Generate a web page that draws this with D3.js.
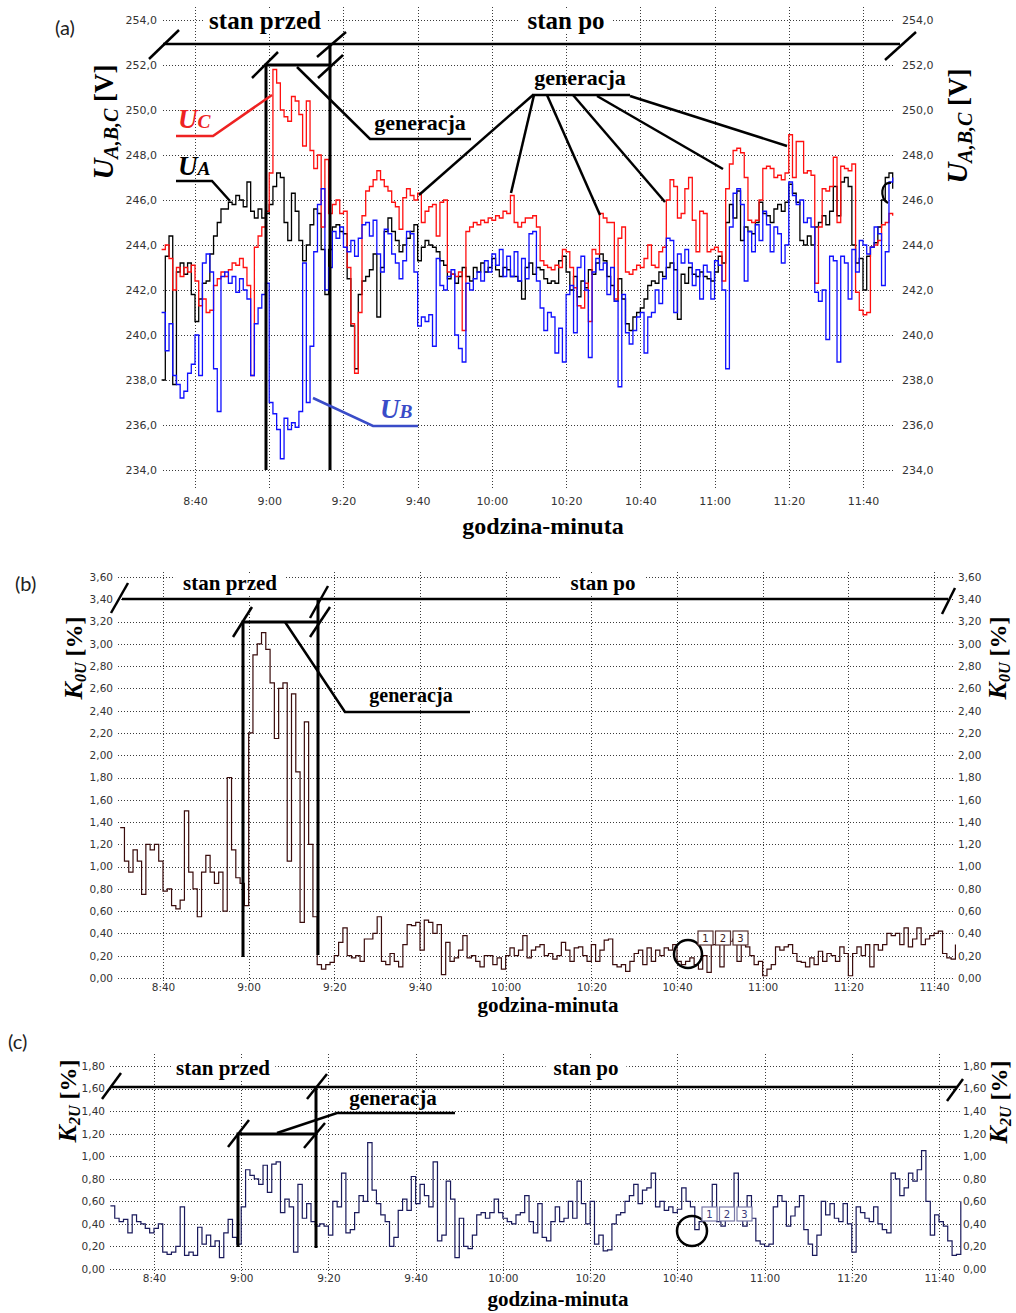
<!DOCTYPE html>
<html>
<head>
<meta charset="utf-8">
<script src="https://cdn.jsdelivr.net/npm/d3@7"></script>
<style>
  body { margin: 0; background: #fff; }
  svg { display: block; }
  .tick text { font-family: "DejaVu Sans", Verdana, sans-serif; fill: #333; }
  .serif { font-family: "Liberation Serif", "Times New Roman", serif; font-weight: bold; }
</style>
</head>
<body>
<svg id="chart" width="1016" height="1313"></svg>
<script>
// ---- time axis (hour:minute) ----
const tickTimes = ["8:40", "9:00", "9:20", "9:40", "10:00", "10:20", "10:40", "11:00", "11:20", "11:40"];

// ---- (a) phase voltages U_A, U_B, U_C [V], one reading per minute ----
const startA = "8:31";
const uA = [
  238.0, 243.5, 244.4, 237.8, 242.8, 243.2, 242.7, 243.2, 241.8,
  240.6, 241.6, 242.3, 242.4, 243.6, 244.4, 245.0, 245.6, 245.6, 245.9,
  245.8, 246.2, 246.0, 245.7, 246.8, 245.5, 245.2, 245.6, 245.2, 245.4,
  245.8, 246.6, 247.2, 247.0, 245.0, 244.2, 246.3, 245.5, 244.2, 243.3,
  244.0, 244.9, 245.6, 245.4, 243.8, 241.8, 243.8, 244.8, 244.9, 244.6,
  244.5, 242.5, 240.4, 238.5, 241.8, 242.4, 242.6, 242.9, 243.6, 240.8,
  243.0, 244.6, 245.2, 244.6, 244.2, 243.7, 244.0, 244.3, 244.6, 244.9,
  243.3, 243.9, 244.2, 244.0, 243.9, 243.7, 243.3, 243.1, 242.5, 242.7,
  242.3, 242.6, 243.0, 242.6, 242.4, 243.0, 242.8, 243.2, 242.8, 243.0,
  243.4, 242.9, 242.6, 243.0, 242.9, 242.6, 242.6, 242.4, 241.6, 243.0,
  243.2, 242.7, 243.0, 242.9, 242.5, 242.3, 242.4, 242.3, 243.3, 243.5,
  242.8, 242.0, 242.6, 241.7, 242.4, 242.1, 242.9, 242.7, 243.2, 243.6,
  243.3, 242.6, 242.2, 241.5, 242.5, 241.6, 240.5, 240.2, 240.8, 241.0,
  241.2, 241.6, 242.2, 242.4, 242.3, 242.8, 242.6, 243.0, 243.2, 242.9,
  240.7, 242.7, 242.3, 243.0, 242.7, 242.6, 242.8, 242.6, 242.5, 242.4,
  242.8, 243.5, 243.2, 245.0, 245.8, 245.2, 246.4, 244.2, 244.8, 244.6,
  244.5, 245.0, 245.9, 245.4, 245.3, 245.0, 245.6, 245.8, 245.5, 245.9,
  246.7, 246.3, 245.9, 244.2, 244.0, 244.4, 244.0, 244.8, 245.0, 245.3,
  244.9, 245.5, 246.6, 245.3, 246.8, 247.0, 246.6, 244.0, 243.2, 243.4,
  242.0, 243.5, 243.9, 244.1, 244.8, 246.0, 247.0, 247.2, 246.5
];
const uB = [
  241.0, 239.3, 240.5, 238.2, 237.8, 237.2, 237.5, 238.3, 238.7,
  240.0, 238.2, 243.2, 243.6, 242.8, 238.5, 236.6, 242.6, 242.8, 242.3,
  242.6, 241.9, 242.5, 242.0, 241.6, 238.2, 240.5, 241.2, 241.8, 242.3,
  237.0, 236.5, 235.8, 234.5, 236.3, 235.8, 236.1, 235.9, 236.6, 243.2,
  237.0, 239.5, 243.7, 245.8, 246.5, 242.0, 243.0, 244.6, 244.3, 244.8,
  243.9, 243.7, 244.2, 243.5, 244.3, 244.9, 245.0, 244.4, 245.1, 243.6,
  242.8, 244.7, 244.5, 243.6, 243.2, 242.5, 243.3, 244.6, 244.5, 242.8,
  240.4, 240.8, 240.6, 240.9, 239.5, 243.4, 242.2, 242.0, 242.6, 242.9,
  240.0, 239.4, 238.8, 242.3, 242.0, 242.5, 242.8, 242.4, 243.3, 242.8,
  243.6, 243.1, 243.8, 242.6, 243.5, 242.6, 243.7, 242.4, 243.4, 242.5,
  244.5, 244.6, 242.4, 241.2, 240.2, 241.0, 240.8, 239.2, 240.3, 238.8,
  241.8, 242.2, 240.1, 243.0, 243.5, 242.0, 239.0, 242.8, 243.4, 242.9,
  243.2, 241.8, 243.0, 241.5, 237.7, 241.8, 240.1, 239.6, 240.2, 240.8,
  241.0, 239.2, 240.8, 241.0, 242.0, 241.4, 242.5, 244.3, 244.2, 241.0,
  243.6, 243.2, 243.8, 243.2, 242.2, 242.9, 241.6, 243.1, 242.8, 241.6,
  243.3, 243.1, 242.0, 238.5, 244.8, 246.3, 246.5, 245.8, 242.4, 244.6,
  243.7, 244.9, 244.2, 245.5, 244.9, 243.7, 244.8, 244.5, 243.2, 244.0,
  246.8, 246.2, 245.8, 246.0, 245.0, 245.2, 244.8, 241.9, 241.5, 242.0,
  239.8, 243.5, 243.3, 238.8, 243.5, 243.2, 241.6, 243.8, 242.8, 244.2,
  244.0, 243.6, 243.9, 244.8, 244.5, 242.2, 243.7, 246.8, 247.0
];
const uC = [
  243.8, 244.0, 243.4, 242.0, 243.0, 242.6, 243.0, 242.8, 243.1,
  242.4, 241.3, 241.6, 241.0, 241.1, 242.2, 242.5, 242.8, 242.6, 242.9,
  243.2, 243.1, 243.4, 243.0, 242.2, 238.2, 243.9, 244.4, 244.8, 245.5,
  247.2, 251.8, 251.2, 250.0, 249.7, 249.5, 250.6, 250.4, 249.8, 248.4,
  250.4, 248.2, 247.4, 248.0, 244.8, 247.8, 245.4, 245.8, 246.0, 245.4,
  245.5, 243.0, 240.5, 238.3, 241.0, 245.3, 246.4, 246.6, 246.9, 247.3,
  246.9, 246.6, 246.4, 245.9, 245.7, 244.7, 246.1, 246.5, 246.2, 246.0,
  246.3, 245.0, 245.5, 245.7, 245.8, 244.4, 245.9, 246.0, 242.8, 242.7,
  242.6, 242.8, 240.2, 244.6, 244.8, 245.0, 244.9, 245.1, 245.0, 245.2,
  245.1, 245.3, 245.2, 245.5, 245.4, 246.2, 245.0, 244.8, 245.0, 245.2,
  245.2, 245.3, 244.8, 243.3, 243.1, 243.0, 242.9, 243.1, 243.0, 243.8,
  243.7, 243.0, 242.1, 241.3, 241.2, 242.3, 240.6, 243.8, 243.6, 245.4,
  245.2, 245.0, 245.0, 241.6, 244.3, 244.8, 242.8, 242.7, 242.9, 243.1,
  243.0, 243.4, 244.0, 243.1, 243.0, 243.7, 243.9, 246.0, 246.9, 246.6,
  245.2, 245.4, 246.5, 247.0, 245.1, 243.7, 245.5, 245.4, 243.7, 243.8,
  243.9, 243.7, 242.4, 246.5, 247.6, 248.2, 248.3, 248.1, 247.0, 245.1,
  245.0, 245.1, 246.0, 247.4, 247.5, 247.4, 247.0, 247.1, 246.9, 247.2,
  248.9, 247.0, 248.6, 248.6, 247.2, 247.3, 247.1, 242.3, 244.8, 246.5,
  246.4, 246.6, 247.9, 245.0, 247.5, 247.4, 247.3, 247.6, 241.9, 241.1,
  240.9, 241.0, 243.9, 244.0, 244.2, 244.9, 245.0, 245.4, 245.3
];
const ticksA = [234, 236, 238, 240, 242, 244, 246, 248, 250, 252, 254];

// ---- (b) zero-sequence unbalance K0U [%] ----
const startB = "8:30";
const k0u = [
  1.35, 1.05, 0.95, 1.15, 1.05, 0.75, 1.2, 1.15, 1.2, 1.05,
  0.78, 0.8, 0.65, 0.62, 0.7, 1.5, 0.95, 0.8, 0.55, 0.95,
  1.1, 0.95, 0.85, 0.95, 0.6, 1.8, 1.15, 0.9, 0.85, 0.65,
  2.2, 2.9, 3.0, 3.1, 2.95, 2.65, 2.15, 2.6, 2.65, 1.05,
  2.55, 1.85, 0.5, 2.3, 1.2, 0.55, 0.12, 0.08, 0.12, 0.14,
  0.2, 0.32, 0.45, 0.2, 0.18, 0.2, 0.15, 0.35, 0.35, 0.4,
  0.55, 0.15, 0.12, 0.22, 0.15, 0.1, 0.3, 0.48, 0.47, 0.5,
  0.25, 0.52, 0.5, 0.4, 0.48, 0.03, 0.32, 0.15, 0.18, 0.25,
  0.38, 0.18, 0.2, 0.15, 0.1, 0.2, 0.2, 0.12, 0.18, 0.08,
  0.2, 0.27, 0.2, 0.25, 0.38, 0.18, 0.25, 0.28, 0.3, 0.2,
  0.22, 0.17, 0.2, 0.32, 0.25, 0.15, 0.27, 0.28, 0.2, 0.15,
  0.3, 0.15, 0.25, 0.34, 0.35, 0.12, 0.1, 0.12, 0.06, 0.15,
  0.22, 0.25, 0.12, 0.27, 0.15, 0.25, 0.2, 0.27, 0.25, 0.3,
  0.15, 0.12, 0.15, 0.18, 0.12, 0.08, 0.2, 0.05, 0.3, 0.32,
  0.1, 0.3, 0.33, 0.35, 0.15, 0.3, 0.28, 0.2, 0.12, 0.15,
  0.02, 0.08, 0.12, 0.28, 0.25, 0.28, 0.3, 0.22, 0.15, 0.14,
  0.1, 0.18, 0.12, 0.24, 0.15, 0.22, 0.2, 0.15, 0.28, 0.22,
  0.02, 0.22, 0.28, 0.2, 0.3, 0.1, 0.3, 0.25, 0.3, 0.4,
  0.38, 0.4, 0.3, 0.45, 0.28, 0.35, 0.45, 0.3, 0.35, 0.38,
  0.4, 0.42, 0.22, 0.18, 0.17, 0.3
];
const ticksB = [0, 0.2, 0.4, 0.6, 0.8, 1.0, 1.2, 1.4, 1.6, 1.8, 2.0, 2.2, 2.4, 2.6, 2.8, 3.0, 3.2, 3.4, 3.6];

// ---- (c) negative-sequence unbalance K2U [%] ----
const startC = "8:30";
const k2u = [
  0.56, 0.45, 0.42, 0.44, 0.32, 0.48, 0.42, 0.4, 0.36, 0.32,
  0.36, 0.4, 0.15, 0.13, 0.15, 0.2, 0.55, 0.12, 0.15, 0.12,
  0.37, 0.22, 0.3, 0.2, 0.25, 0.1, 0.32, 0.44, 0.28, 0.22,
  0.55, 0.88, 0.83, 0.8, 0.75, 0.92, 0.68, 0.93, 0.95, 0.5,
  0.62, 0.55, 0.15, 0.75, 0.45, 0.58, 0.42, 0.38, 0.4, 0.38,
  0.3, 0.6, 0.55, 0.85, 0.32, 0.35, 0.5, 0.65, 0.6, 1.12,
  0.7, 0.58, 0.48, 0.42, 0.2, 0.28, 0.52, 0.62, 0.52, 0.82,
  0.58, 0.75, 0.65, 0.55, 0.95, 0.25, 0.3, 0.78, 0.62, 0.1,
  0.45, 0.2, 0.18, 0.3, 0.48, 0.5, 0.45, 0.5, 0.62, 0.5,
  0.45, 0.42, 0.4, 0.48, 0.5, 0.65, 0.42, 0.32, 0.58, 0.28,
  0.25, 0.42, 0.55, 0.42, 0.45, 0.6, 0.45, 0.78, 0.58, 0.4,
  0.6, 0.22, 0.3, 0.16, 0.17, 0.4, 0.48, 0.5, 0.6, 0.65,
  0.75, 0.58, 0.7, 0.72, 0.85, 0.55, 0.6, 0.52, 0.55, 0.5,
  0.53, 0.72, 0.6, 0.55, 0.35, 0.42, 0.45, 0.5, 0.75, 0.42,
  0.38, 0.45, 0.5, 0.85, 0.45, 0.38, 0.65, 0.45, 0.25, 0.22,
  0.2, 0.22, 0.55, 0.65, 0.6, 0.38, 0.47, 0.55, 0.65, 0.35,
  0.22, 0.12, 0.3, 0.6, 0.48, 0.58, 0.45, 0.42, 0.58, 0.4,
  0.15, 0.55, 0.5, 0.45, 0.42, 0.55, 0.4, 0.35, 0.32, 0.85,
  0.8, 0.65, 0.72, 0.85, 0.78, 0.88, 1.05, 0.6, 0.3, 0.48,
  0.42, 0.38, 0.25, 0.12, 0.13, 0.6
];
const ticksC = [0, 0.2, 0.4, 0.6, 0.8, 1.0, 1.2, 1.4, 1.6, 1.8];

// ---- helpers ----
const toMin = s => { const [h, m] = s.split(":").map(Number); return h * 60 + m; };
const fmtTime = m => `${Math.floor(m / 60)}:${String(m % 60).padStart(2, "0")}`;
const svg = d3.select("#chart");
const tickMinutes = tickTimes.map(toMin);

function panel(cfg) {
  const g = svg.append("g");
  const x = d3.scaleLinear().domain([toMin("8:40"), toMin("11:40")]).range(cfg.xr);
  const y = d3.scaleLinear().domain(cfg.yd).range(cfg.yr);
  const grid = g.append("g").attr("stroke", "#3a3a3a").attr("stroke-width", 1)
    .attr("stroke-dasharray", "1,2").attr("shape-rendering", "crispEdges");
  grid.selectAll("line.h").data(cfg.yTicks).join("line").attr("class", "h")
    .attr("x1", cfg.left).attr("x2", cfg.right)
    .attr("y1", d => Math.round(y(d)) + 0.5).attr("y2", d => Math.round(y(d)) + 0.5);
  grid.selectAll("line.v").data(tickMinutes).join("line").attr("class", "v")
    .attr("y1", cfg.vTop).attr("y2", cfg.vBottom)
    .attr("x1", d => Math.round(x(d)) + 0.5).attr("x2", d => Math.round(x(d)) + 0.5);

  const fmtY = d => d.toFixed(cfg.dec).replace(".", ",");
  const ax = g.append("g").attr("transform", `translate(0,${cfg.xLabelY})`)
    .call(d3.axisBottom(x).tickValues(tickMinutes).tickFormat(fmtTime).tickSize(0).tickPadding(0));
  const axl = g.append("g").attr("transform", `translate(${cfg.left},0)`)
    .call(d3.axisLeft(y).tickValues(cfg.yTicks).tickFormat(fmtY).tickSize(0).tickPadding(cfg.left - cfg.yLabL));
  const axr = g.append("g").attr("transform", `translate(${cfg.right},0)`)
    .call(d3.axisRight(y).tickValues(cfg.yTicks).tickFormat(fmtY).tickSize(0).tickPadding(cfg.yLabR - cfg.right));
  [ax, axl, axr].forEach(a => {
    a.select(".domain").remove();
    a.selectAll("text").style("font-size", cfg.fs + "px").attr("fill", "#333");
  });
  ax.selectAll("text").attr("dy", "0.71em");
  return { g, x, y };
}

function drawSeries(p, start, values, color, width) {
  const t0 = toMin(start);
  const line = d3.line().x((d, i) => p.x(t0 + i)).y(d => p.y(d)).curve(d3.curveStepAfter);
  p.g.append("path").datum(values).attr("d", line)
    .attr("fill", "none").attr("stroke", color).attr("stroke-width", width)
    .attr("stroke-linejoin", "miter");
}

function serifText(x, y, txt, size, anchor = "middle", bg = false, pad = 6) {
  const t = svg.append("text").attr("class", "serif").attr("x", x).attr("y", y)
    .attr("text-anchor", anchor).style("font-size", size + "px").attr("fill", "#000").text(txt);
  if (bg) {
    const b = t.node().getBBox();
    svg.insert("rect", () => t.node()).attr("x", b.x - pad).attr("y", b.y + 2)
      .attr("width", b.width + 2 * pad).attr("height", b.height - 2).attr("fill", "#fff");
  }
  return t;
}

function yTitle(x, y, main, sub, unit, size, subSize, subDy) {
  const t = svg.append("text").attr("class", "serif")
    .attr("transform", `translate(${x},${y}) rotate(-90)`)
    .attr("text-anchor", "middle").attr("fill", "#000");
  t.append("tspan").style("font-style", "italic").style("font-size", size + "px").text(main);
  t.append("tspan").style("font-style", "italic").style("font-size", subSize + "px").attr("dy", subDy).text(sub);
  t.append("tspan").style("font-size", (size - 2) + "px").attr("dy", -subDy).text("\u00a0[" + unit + "]");
}

function poly(pts, w = 2.5, color = "#000") {
  svg.append("path").attr("d", d3.line()(pts)).attr("fill", "none")
    .attr("stroke", color).attr("stroke-width", w).attr("stroke-linecap", "butt");
}

function panelLabel(x, y, s) {
  svg.append("text").attr("x", x).attr("y", y).text(s)
    .style("font-family", "Lato, 'Open Sans', sans-serif").style("font-size", "20px").attr("fill", "#222");
}

function phaseLabel(x, y, main, sub, color, size) {
  const t = svg.append("text").attr("class", "serif").attr("x", x).attr("y", y).attr("fill", color)
    .style("font-style", "italic");
  t.append("tspan").style("font-size", size + "px").text(main);
  t.append("tspan").style("font-size", (size * 0.72) + "px").text(sub);
}

function numberBoxes(x0, y0, stroke, textColor) {
  ["1", "2", "3"].forEach((s, i) => {
    const bx = x0 + i * 17.5;
    svg.append("rect").attr("x", bx).attr("y", y0).attr("width", 15).attr("height", 14)
      .attr("fill", "#fff").attr("stroke", stroke).attr("stroke-width", 1.2);
    svg.append("text").attr("x", bx + 7.5).attr("y", y0 + 11).attr("text-anchor", "middle")
      .style("font-family", "'DejaVu Sans', sans-serif").style("font-size", "10px")
      .attr("fill", textColor).text(s);
  });
}

// ================= (a) =================
const pA = panel({
  xr: [195, 863], yd: [234, 254], yr: [470, 20], yTicks: ticksA, dec: 1,
  left: 163, right: 893, vTop: 7, vBottom: 490, xLabelY: 497,
  yLabL: 157, yLabR: 902, fs: 11
});
drawSeries(pA, startA, uA, "#000", 1.3);
drawSeries(pA, startA, uC, "#ff1010", 1.3);
drawSeries(pA, startA, uB, "#1010ff", 1.3);

panelLabel(55, 35, "(a)");
serifText(265, 29, "stan przed", 25, "middle", true, 6);
serifText(566, 29, "stan po", 25, "middle", true, 8);
// time-interval brackets
poly([[163, 44], [900, 44]]);
poly([[149, 59], [179, 30]]);
poly([[317, 57], [346, 32]]);
poly([[885, 60], [916, 32]]);
poly([[266, 470], [266, 65], [330, 65]], 3);
poly([[330, 44], [330, 470]], 3);
poly([[252, 78], [278, 52]]);
poly([[318, 78], [343, 55]]);
// generation markers
poly([[297, 67], [370, 139], [471, 139]]);
serifText(420, 130, "generacja", 22);
serifText(580, 85, "generacja", 22);
poly([[532, 95], [630, 95]]);
poly([[533, 95], [419, 195]]);
poly([[534, 95], [511, 193]]);
poly([[547, 95], [600, 215]]);
poly([[573, 95], [665, 202]]);
poly([[597, 96], [723, 169]]);
poly([[630, 96], [787, 146]]);
// phase labels
phaseLabel(178, 128, "U", "C", "#ee2222", 27);
poly([[176, 136], [213, 136], [272, 95]], 2.5, "#ee2222");
phaseLabel(178, 175, "U", "A", "#000", 27);
poly([[176, 181], [212, 181], [230, 201]], 2.5);
phaseLabel(380, 418, "U", "B", "#3a4cc8", 27);
poly([[313, 398], [373, 426], [418, 426]], 2.5, "#3a4cc8");
svg.append("path").attr("d", "M891,183 C881,181 879,199 888,203").attr("fill", "none")
  .attr("stroke", "#000").attr("stroke-width", 2.2);
// axis titles
serifText(543, 534, "godzina-minuta", 24);
yTitle(113, 122, "U", "A,B,C", "V", 29, 20, 5);
yTitle(967, 126, "U", "A,B,C", "V", 29, 20, 5);

// ================= (b) =================
const pB = panel({
  xr: [163, 934], yd: [0, 3.6], yr: [978, 577], yTicks: ticksB, dec: 2,
  left: 118, right: 955, vTop: 572, vBottom: 985, xLabelY: 984,
  yLabL: 113, yLabR: 958, fs: 10.5
});
drawSeries(pB, startB, k0u, "#3a0c0c", 1.2);

panelLabel(15, 591, "(b)");
serifText(230, 590, "stan przed", 21, "middle", true, 8);
serifText(603, 590, "stan po", 21, "middle", true, 10);
poly([[122, 599], [948, 599]]);
poly([[111, 613], [128, 583]]);
poly([[310, 618], [328, 586]]);
poly([[942, 614], [955, 588]]);
poly([[243, 957], [243, 622], [318, 622]], 3);
poly([[318, 599], [318, 955]], 3);
poly([[233, 637], [252, 607]]);
poly([[310, 637], [330, 607]]);
poly([[285, 622], [345, 712], [470, 712]]);
serifText(411, 702, "generacja", 20);
svg.append("circle").attr("cx", 688).attr("cy", 954).attr("r", 14)
  .attr("fill", "none").attr("stroke", "#000").attr("stroke-width", 2.5);
numberBoxes(698, 931, "#5a3434", "#3a1a1a");
serifText(548, 1012, "godzina-minuta", 21);
yTitle(82, 658, "K", "0U", "%", 26, 16, 4);
yTitle(1006, 658, "K", "0U", "%", 26, 16, 4);

// ================= (c) =================
const pC = panel({
  xr: [154, 939], yd: [0, 1.8], yr: [1269, 1066], yTicks: ticksC, dec: 2,
  left: 110, right: 960, vTop: 1054, vBottom: 1276, xLabelY: 1275,
  yLabL: 105, yLabR: 963, fs: 10.5
});
drawSeries(pC, startC, k2u, "#1a1a5c", 1.2);

panelLabel(8, 1049, "(c)");
serifText(223, 1075, "stan przed", 21, "middle", true, 5);
serifText(586, 1075, "stan po", 21, "middle", true, 8);
poly([[110, 1087], [957, 1087]]);
poly([[102, 1099], [121, 1073]]);
poly([[307, 1099], [327, 1074]]);
poly([[947, 1101], [963, 1079]]);
poly([[238, 1247], [238, 1134], [316, 1134]], 3);
poly([[316, 1087], [316, 1248]], 3);
poly([[228, 1147], [249, 1120]]);
poly([[304, 1148], [325, 1123]]);
poly([[277, 1133], [337, 1113], [455, 1113]]);
serifText(393, 1105, "generacja", 21);
svg.append("circle").attr("cx", 692).attr("cy", 1231).attr("r", 15)
  .attr("fill", "none").attr("stroke", "#000").attr("stroke-width", 2.5);
numberBoxes(702, 1207, "#7a7aa8", "#3a3a7a");
serifText(558, 1306, "godzina-minuta", 21);
yTitle(76, 1101, "K", "2U", "%", 26, 16, 4);
yTitle(1007, 1102, "K", "2U", "%", 26, 16, 4);
</script>
</body>
</html>
